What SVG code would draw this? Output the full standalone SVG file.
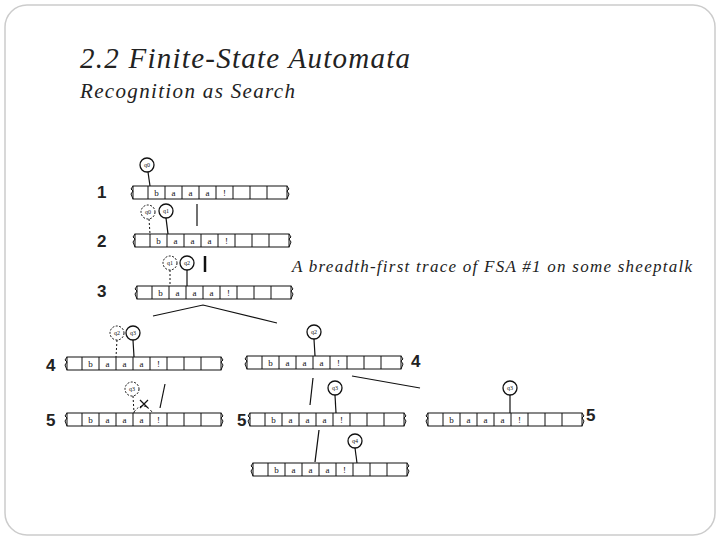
<svg xmlns="http://www.w3.org/2000/svg" xmlns:xlink="http://www.w3.org/1999/xlink" width="720" height="540" viewBox="0 0 720 540">
<style>
.t{font-family:"Liberation Serif",serif;font-style:italic;fill:#222}
.n{font-family:"Liberation Sans",sans-serif;font-weight:bold;font-size:17px;fill:#222}
.c{font-family:"Liberation Serif",serif;font-size:9px;fill:#111;text-anchor:middle}
.ln{stroke:#111;stroke-width:1.2;fill:none}
.dl{stroke:#111;stroke-width:1;fill:none;stroke-dasharray:2 2}
.q{fill:#fff;stroke:#111;stroke-width:1.3}
.qd{fill:#fff;stroke:#111;stroke-width:1;stroke-dasharray:2 1.5}
.qt{font-family:"Liberation Serif",serif;font-size:6px;fill:#111;text-anchor:middle}
</style>
<defs>
<g id="tape">
<rect x="0" y="0" width="154" height="13" fill="#fff" stroke="#111" stroke-width="1"/>
<path d="M15 0V13M32 0V13M49 0V13M66 0V13M83 0V13M100 0V13M117 0V13M134 0V13" stroke="#111" stroke-width="1"/>
<path d="M0 0 l-2 3 l2 2 l-2 3 l2 5M154 0 l2 3 l-2 2 l2 3 l-2 5" stroke="#111" fill="none" stroke-width="1"/>
<text x="23.5" y="10" class="c">b</text><text x="40.5" y="10" class="c">a</text><text x="57.5" y="10" class="c">a</text><text x="74.5" y="10" class="c">a</text><text x="91.5" y="10" class="c">!</text>
</g>
</defs>
<rect x="5" y="5" width="710" height="530" rx="22" fill="#fff" stroke="#ccc" stroke-width="1.5"/>
<text x="80" y="68" class="t" font-size="29" textLength="330" lengthAdjust="spacing">2.2 Finite-State Automata</text>
<text x="80" y="98" class="t" font-size="21" textLength="215" lengthAdjust="spacing">Recognition as Search</text>
<text x="292" y="272" class="t" font-size="17" textLength="400" lengthAdjust="spacing">A breadth-first trace of FSA #1 on some sheeptalk</text>
<g id="labels">
<text x="97" y="198" class="n">1</text><text x="97" y="247" class="n">2</text><text x="97" y="297" class="n">3</text>
<text x="46" y="371" class="n">4</text><text x="46" y="426" class="n">5</text><text x="411" y="367" class="n">4</text>
<text x="237" y="426" class="n">5</text><text x="586" y="421" class="n">5</text>
</g>
<g id="connectors">
<path class="ln" d="M197 204V226"/>
<path d="M205 256V272" stroke="#111" stroke-width="2.5"/>
<path class="ln" d="M153 316L203 305L277 323"/>
<path class="ln" d="M165 384L160 408"/>
<path class="ln" d="M313 378L310 405"/>
<path class="ln" d="M319 430L315 462"/>
<path class="ln" d="M352 376L420 388"/>
</g>
<g id="tape1"><use xlink:href="#tape" x="133" y="186"/>
<path class="ln" d="M148 172L150 186"/><circle class="q" cx="147" cy="165" r="7"/><text class="qt" x="147" y="167">q0</text></g>
<g id="tape2"><use xlink:href="#tape" x="135" y="234"/>
<path class="dl" d="M149 219L150 234"/><circle class="qd" cx="148" cy="212" r="7"/><text class="qt" x="148" y="214">q0</text>
<path class="ln" d="M166 218L168 234"/><circle class="q" cx="166" cy="211" r="7"/><text class="qt" x="166" y="213">q1</text></g>
<g id="tape3"><use xlink:href="#tape" x="137" y="286"/>
<path class="dl" d="M170 270L170 286"/><circle class="qd" cx="170" cy="263" r="7"/><text class="qt" x="170" y="265">q1</text>
<path class="ln" d="M187 270L187 286"/><circle class="q" cx="187" cy="263" r="7"/><text class="qt" x="187" y="265">q2</text></g>
<g id="tape4l"><use xlink:href="#tape" x="67" y="357"/>
<path class="dl" d="M117 340L116 357"/><circle class="qd" cx="117" cy="333" r="7"/><text class="qt" x="117" y="335">q2</text>
<path class="ln" d="M133 340L134 357"/><circle class="q" cx="133" cy="333" r="7"/><text class="qt" x="133" y="335">q3</text></g>
<g id="tape5l"><use xlink:href="#tape" x="67" y="413"/>
<path class="dl" d="M133 396L134 413"/><circle class="qd" cx="132" cy="389" r="7"/><text class="qt" x="132" y="391">q3</text>
<path class="dl" d="M134 412Q143 400 152 412"/>
<path class="ln" d="M140 400L148 408M148 400L140 408"/></g>
<g id="tape4r"><use xlink:href="#tape" x="247" y="356"/>
<path class="ln" d="M314 339L315 356"/><circle class="q" cx="314" cy="332" r="7"/><text class="qt" x="314" y="334">q2</text></g>
<g id="tape5m"><use xlink:href="#tape" x="250" y="413"/>
<path class="ln" d="M335 395L336 413"/><circle class="q" cx="335" cy="388" r="7"/><text class="qt" x="335" y="390">q3</text></g>
<g id="tape5r"><use xlink:href="#tape" x="428" y="413"/>
<path class="ln" d="M510 395L510 413"/><circle class="q" cx="510" cy="388" r="7"/><text class="qt" x="510" y="390">q3</text></g>
<g id="tape6"><use xlink:href="#tape" x="253" y="463"/>
<path class="ln" d="M355 448L357 463"/><circle class="q" cx="355" cy="441" r="7" stroke-width="2"/><text class="qt" x="355" y="443">q4</text></g>
</svg>
